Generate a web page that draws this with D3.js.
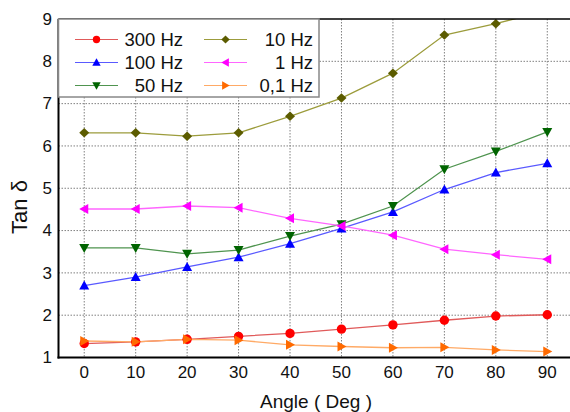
<!DOCTYPE html>
<html lang="en">
<head>
<meta charset="UTF-8">
<title>Tan delta vs angle</title>
<script src="https://cdn.jsdelivr.net/npm/d3@7"></script>
<style>
  body { margin: 0; background: #fff; }
  text { font-family: "Liberation Sans", Arial, sans-serif; fill: #111; }
</style>
</head>
<body>
<svg width="570" height="412"></svg>
<script>
// data
var angles = [0, 10, 20, 30, 40, 50, 60, 70, 80, 90];
var hz300 = [1.33, 1.37, 1.43, 1.50, 1.57, 1.67, 1.77, 1.88, 1.98, 2.01];
var hz100 = [2.70, 2.90, 3.14, 3.37, 3.69, 4.05, 4.44, 4.97, 5.37, 5.59];
var hz50 = [3.59, 3.59, 3.45, 3.54, 3.87, 4.15, 4.58, 5.45, 5.87, 6.33];
var hz10 = [6.31, 6.31, 6.23, 6.31, 6.70, 7.13, 7.72, 8.62, 8.89, 9.20];
var hz1 = [4.51, 4.51, 4.58, 4.54, 4.29, 4.11, 3.89, 3.56, 3.43, 3.32];
var hz01 = [1.39, 1.37, 1.43, 1.41, 1.30, 1.26, 1.23, 1.24, 1.18, 1.14];
var yTicks = [1, 2, 3, 4, 5, 6, 7, 8, 9];

var series = [
  {name: "300 Hz", values: hz300, mark: "#ff0000", line: "#e05a5a", shape: "circle"},
  {name: "100 Hz", values: hz100, mark: "#0000ff", line: "#5a5aff", shape: "up"},
  {name: "50 Hz", values: hz50, mark: "#006400", line: "#4f944f", shape: "down"},
  {name: "10 Hz", values: hz10, mark: "#5c5c00", line: "#9c9c3c", shape: "diamond"},
  {name: "1 Hz", values: hz1, mark: "#ff00ff", line: "#ff66ff", shape: "left"},
  {name: "0,1 Hz", values: hz01, mark: "#ff6a00", line: "#ffaa66", shape: "right"}
];

var pLeft = 58.5, pTop = 19, pBottom = 357.5, pRight = 573;
var x = d3.scaleLinear().domain([-5, 95]).range([pLeft, pRight]);
var y = d3.scaleLinear().domain([1, 9]).range([pBottom, pTop]);

var svg = d3.select("svg");

svg.append("defs").append("clipPath").attr("id", "plot")
  .append("rect").attr("x", pLeft).attr("y", pTop)
  .attr("width", pRight - pLeft).attr("height", pBottom - pTop);

// grid
svg.append("g").selectAll("line").data(angles).join("line")
  .attr("x1", d => x(d)).attr("x2", d => x(d))
  .attr("y1", pTop).attr("y2", pBottom)
  .attr("stroke", "#808080").attr("stroke-width", 1).attr("stroke-dasharray", "1.5,1.5");
svg.append("g").selectAll("line").data(yTicks.slice(1, -1)).join("line")
  .attr("x1", pLeft).attr("x2", pRight)
  .attr("y1", d => y(d)).attr("y2", d => y(d))
  .attr("stroke", "#808080").attr("stroke-width", 1).attr("stroke-dasharray", "1.5,1.5");

// h = half size of the marker in px
function symbolPath(shape, h) {
  if (shape == "circle") return d3.symbol(d3.symbolCircle, Math.PI * h * h)();
  if (shape == "up") return "M0," + (-h) + "L" + h + "," + (h * 0.8) + "L" + (-h) + "," + (h * 0.8) + "Z";
  if (shape == "down") return "M0," + h + "L" + h + "," + (-h * 0.8) + "L" + (-h) + "," + (-h * 0.8) + "Z";
  if (shape == "left") return "M" + (-h) + ",0L" + (h * 0.8) + "," + (-h) + "L" + (h * 0.8) + "," + h + "Z";
  if (shape == "right") return "M" + h + ",0L" + (-h * 0.8) + "," + (-h) + "L" + (-h * 0.8) + "," + h + "Z";
  if (shape == "diamond") return "M0," + (-h * 0.95) + "L" + h + ",0L0," + (h * 0.95) + "L" + (-h) + ",0Z";
}

var line = d3.line().x((d, i) => x(angles[i])).y(d => y(d));
var plot = svg.append("g").attr("clip-path", "url(#plot)");

series.forEach(function(s) {
  plot.append("path").datum(s.values)
    .attr("d", line).attr("fill", "none")
    .attr("stroke", s.line).attr("stroke-width", 1.3);
});
series.forEach(function(s) {
  plot.append("g").selectAll("path").data(s.values).join("path")
    .attr("transform", (d, i) => "translate(" + x(angles[i]) + "," + y(d) + ")")
    .attr("d", symbolPath(s.shape, s.shape == "circle" ? 4.7 : 5))
    .attr("fill", s.mark);
});

// axes
svg.append("line").attr("x1", pLeft).attr("x2", pLeft).attr("y1", pTop).attr("y2", pBottom + 1)
  .attr("stroke", "#000").attr("stroke-width", 2);
svg.append("line").attr("x1", pLeft - 1).attr("x2", 570).attr("y1", pBottom).attr("y2", pBottom)
  .attr("stroke", "#000").attr("stroke-width", 2);
svg.append("line").attr("x1", pLeft).attr("x2", 570).attr("y1", pTop).attr("y2", pTop)
  .attr("stroke", "#000").attr("stroke-width", 1.5);

svg.append("g").selectAll("text").data(yTicks).join("text")
  .attr("x", 52).attr("y", d => y(d) + 5.8)
  .attr("text-anchor", "end").attr("font-size", 17)
  .text(d => d);
svg.append("g").selectAll("text").data(angles).join("text")
  .attr("x", d => x(d)).attr("y", 378)
  .attr("text-anchor", "middle").attr("font-size", 17)
  .text(d => d);

svg.append("text").attr("x", 316).attr("y", 408)
  .attr("text-anchor", "middle").attr("font-size", 19)
  .text("Angle ( Deg )");
svg.append("text")
  .attr("transform", "translate(27,207) rotate(-90)")
  .attr("text-anchor", "middle").attr("font-size", 22)
  .text("Tan δ");

// legend
var lg = svg.append("g");
lg.append("rect").attr("x", pLeft).attr("y", pTop).attr("width", 260.5).attr("height", 78)
  .attr("fill", "#fff").attr("stroke", "#888").attr("stroke-width", 1.5);
var order = [0, 3, 1, 4, 2, 5];
order.forEach(function(k, i) {
  var s = series[k];
  var col = i % 2, row = Math.floor(i / 2);
  var lx = col == 0 ? 75 : 204, ly = 39.5 + row * 23;
  var tx = col == 0 ? 183 : 313;
  lg.append("line").attr("x1", lx).attr("x2", lx + 43).attr("y1", ly).attr("y2", ly)
    .attr("stroke", s.line).attr("stroke-width", 1.1);
  lg.append("path").attr("transform", "translate(" + (lx + 21.5) + "," + ly + ")")
    .attr("d", symbolPath(s.shape, s.shape == "circle" ? 3.7 : 4.2))
    .attr("fill", s.mark);
  lg.append("text").attr("x", tx).attr("y", ly + 6.5)
    .attr("text-anchor", "end").attr("font-size", 18.5)
    .text(s.name);
});
</script>
</body>
</html>
